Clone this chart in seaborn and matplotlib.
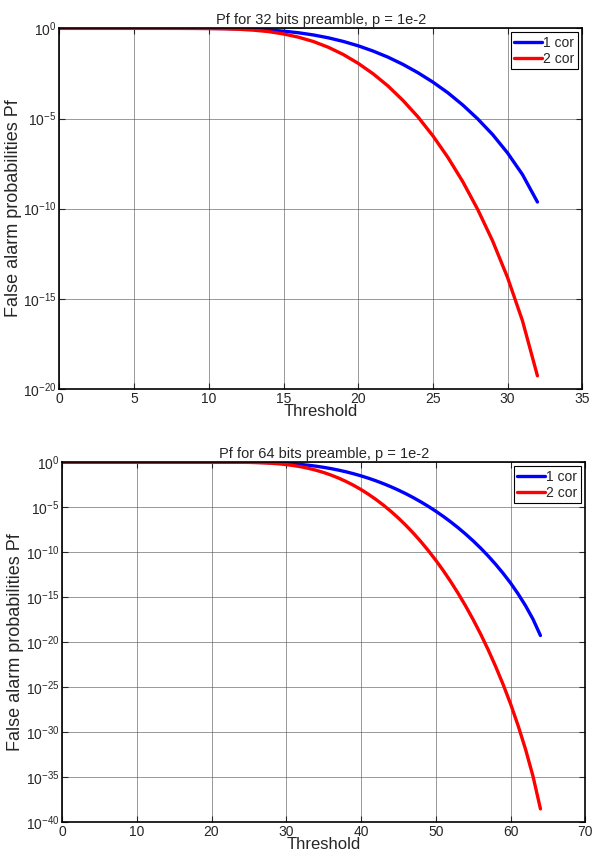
import numpy as np
import pandas as pd
import seaborn as sns
import matplotlib.pyplot as plt
from matplotlib.ticker import FixedLocator, FuncFormatter, NullLocator

# log10 de Pf, umbral 0..32
thr_32 = list(range(33))
exp_1cor_32 = [0, 0, 0, 0, 0, 0, 0, 0, -0.0005, -0.0015, -0.0044, -0.011, -0.025, -0.050,
               -0.091, -0.154, -0.244, -0.366, -0.525, -0.725, -0.968, -1.26, -1.60, -2.00,
               -2.46, -2.98, -3.57, -4.25, -5.02, -5.89, -6.91, -8.11, -9.63]
exp_2cor_32 = [0, 0, 0, 0, 0, 0, 0, 0, -0.001, -0.003, -0.009, -0.022, -0.05, -0.10,
               -0.18, -0.31, -0.49, -0.73, -1.05, -1.45, -1.94, -2.52, -3.20, -4.00,
               -4.91, -5.96, -7.15, -8.50, -10.04, -11.79, -13.82, -16.22, -19.27]

# umbral 0..64
thr_64 = list(range(65))
exp_1cor_64 = [0] * 21 + [-0.001, -0.002, -0.004, -0.007, -0.013, -0.023, -0.038, -0.060,
               -0.092, -0.134, -0.190, -0.259, -0.346, -0.451, -0.575, -0.719, -0.885,
               -1.074, -1.286, -1.523, -1.786, -2.074, -2.390, -2.734, -3.107, -3.510,
               -3.945, -4.413, -4.914, -5.452, -6.026, -6.641, -7.299, -8.001, -8.752,
               -9.556, -10.42, -11.35, -12.35, -13.43, -14.63, -15.95, -17.45, -19.27]
exp_2cor_64 = [0] * 21 + [-0.002, -0.004, -0.008, -0.014, -0.026, -0.046, -0.076, -0.12,
               -0.184, -0.268, -0.38, -0.518, -0.692, -0.902, -1.15, -1.438, -1.77,
               -2.148, -2.572, -3.046, -3.572, -4.148, -4.78, -5.468, -6.214, -7.02,
               -7.89, -8.826, -9.828, -10.904, -12.052, -13.282, -14.598, -16.002, -17.504,
               -19.112, -20.84, -22.70, -24.70, -26.86, -29.26, -31.90, -34.90, -38.54]

titles = ["Pf for 32 bits preamble, p = 1e-2", "Pf for 64 bits preamble, p = 1e-2"]
series_names = ["1 cor", "2 cor"]

sns.set_style("ticks")
plt.rcParams['font.family'] = ['Liberation Sans', 'DejaVu Sans']
plt.rcParams['mathtext.fontset'] = 'custom'
plt.rcParams['mathtext.rm'] = 'Liberation Sans'
plt.rcParams['mathtext.it'] = 'Liberation Sans'


def armar_df(thr, e1, e2):
    d1 = pd.DataFrame({"Threshold": thr, "Pf": 10.0 ** np.array(e1), "Serie": series_names[0]})
    d2 = pd.DataFrame({"Threshold": thr, "Pf": 10.0 ** np.array(e2), "Serie": series_names[1]})
    return pd.concat([d1, d2])


def fmt_pot(v, pos):
    return r"$10^{%d}$" % int(round(np.log10(v)))


fig = plt.figure(figsize=(5.92, 8.56), dpi=100)
ax1 = fig.add_axes([0.1005, 0.5456, 0.883, 0.4217])
ax2 = fig.add_axes([0.1047, 0.0397, 0.884, 0.4206])

configs = [
    (ax1, armar_df(thr_32, exp_1cor_32, exp_2cor_32), 35, 5, -20, titles[0]),
    (ax2, armar_df(thr_64, exp_1cor_64, exp_2cor_64), 70, 10, -40, titles[1]),
]

for ax, df, xmax, xstep, ymin, titulo in configs:
    sns.lineplot(data=df, x="Threshold", y="Pf", hue="Serie", ax=ax,
                 palette={"1 cor": "#0000ff", "2 cor": "#ff0000"}, linewidth=2.4)
    ax.set_yscale("log")
    ax.set_xlim(0, xmax)
    ax.set_ylim(10.0 ** ymin, 10.0 ** 0.02)
    ax.set_xticks(range(0, xmax + 1, xstep))
    ax.yaxis.set_major_locator(FixedLocator([10.0 ** k for k in range(ymin, 1, 5)]))
    ax.yaxis.set_minor_locator(NullLocator())
    ax.yaxis.set_major_formatter(FuncFormatter(fmt_pot))
    ax.grid(True, color="#555555", linewidth=0.6, alpha=0.7)
    for s in ax.spines.values():
        s.set_visible(True)
        s.set_linewidth(1.2)
        s.set_color("black")
    ax.tick_params(direction="in", length=4, labelsize=10, width=0.8,
                   top=True, right=True, pad=2)
    ax.set_title(titulo, fontsize=10.5, pad=3)
    ax.set_xlabel("Threshold", fontsize=12, labelpad=-1)
    ax.set_ylabel("False alarm probabilities Pf", fontsize=13, labelpad=1)
    ax.legend(title=None, loc="upper right", fontsize=10, frameon=True, fancybox=False,
              edgecolor="black", framealpha=1, borderpad=0.25, handlelength=2.0,
              handletextpad=0.1, labelspacing=0.15, borderaxespad=0.3)
    ax.get_legend().get_frame().set_linewidth(0.8)

plt.savefig("out.png", dpi=100)
